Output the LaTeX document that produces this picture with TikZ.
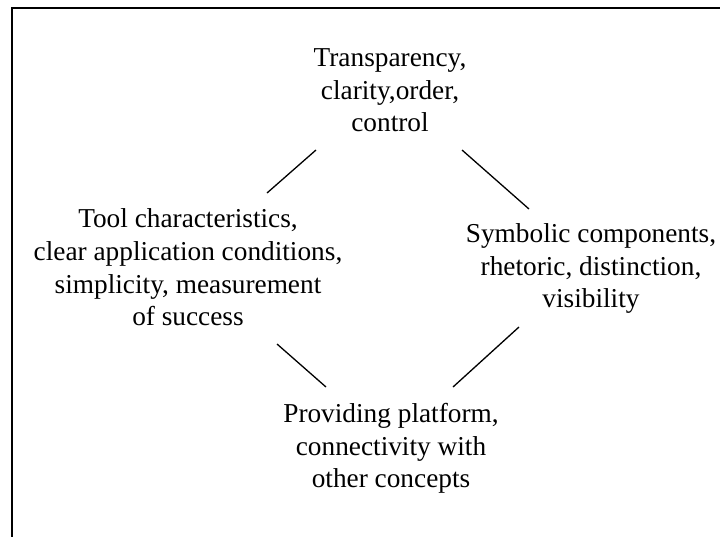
\documentclass[tikz,border=0pt]{standalone}
\usepackage{fontspec}
\setmainfont{Liberation Serif}
\begin{document}
\begin{tikzpicture}[x=1pt,y=-1pt,
  concept/.style={align=center,inner sep=0pt,font=\fontsize{27.3}{32.6}\selectfont},
  link/.style={line width=1.3pt,line cap=butt},
  frame/.style={line width=2pt}]
\useasboundingbox (0,0) rectangle (720,536);
\draw[frame] (12,560) -- (12,8) -- (740,8);
\node[concept] (top) at (390,90.5) {Transparency,\\clarity,order,\\control};
\node[concept] (left) at (188,267.5) {Tool characteristics,\\clear application conditions,\\simplicity, measurement\\of success};
\node[concept] (right) at (591,268.5) {Symbolic components,\\rhetoric, distinction,\\visibility};
\node[concept] (bottom) at (391,448.5) {Providing platform,\\connectivity with\\other concepts};
\coordinate (tl1) at (316,150);
\coordinate (tl2) at (267,193);
\coordinate (tr1) at (462,150);
\coordinate (tr2) at (529,209);
\coordinate (bl1) at (277,344);
\coordinate (bl2) at (326,387);
\coordinate (br1) at (519,327);
\coordinate (br2) at (453,387);
\draw[link] (tl1) -- (tl2);
\draw[link] (tr1) -- (tr2);
\draw[link] (bl1) -- (bl2);
\draw[link] (br1) -- (br2);
\end{tikzpicture}
\end{document}
